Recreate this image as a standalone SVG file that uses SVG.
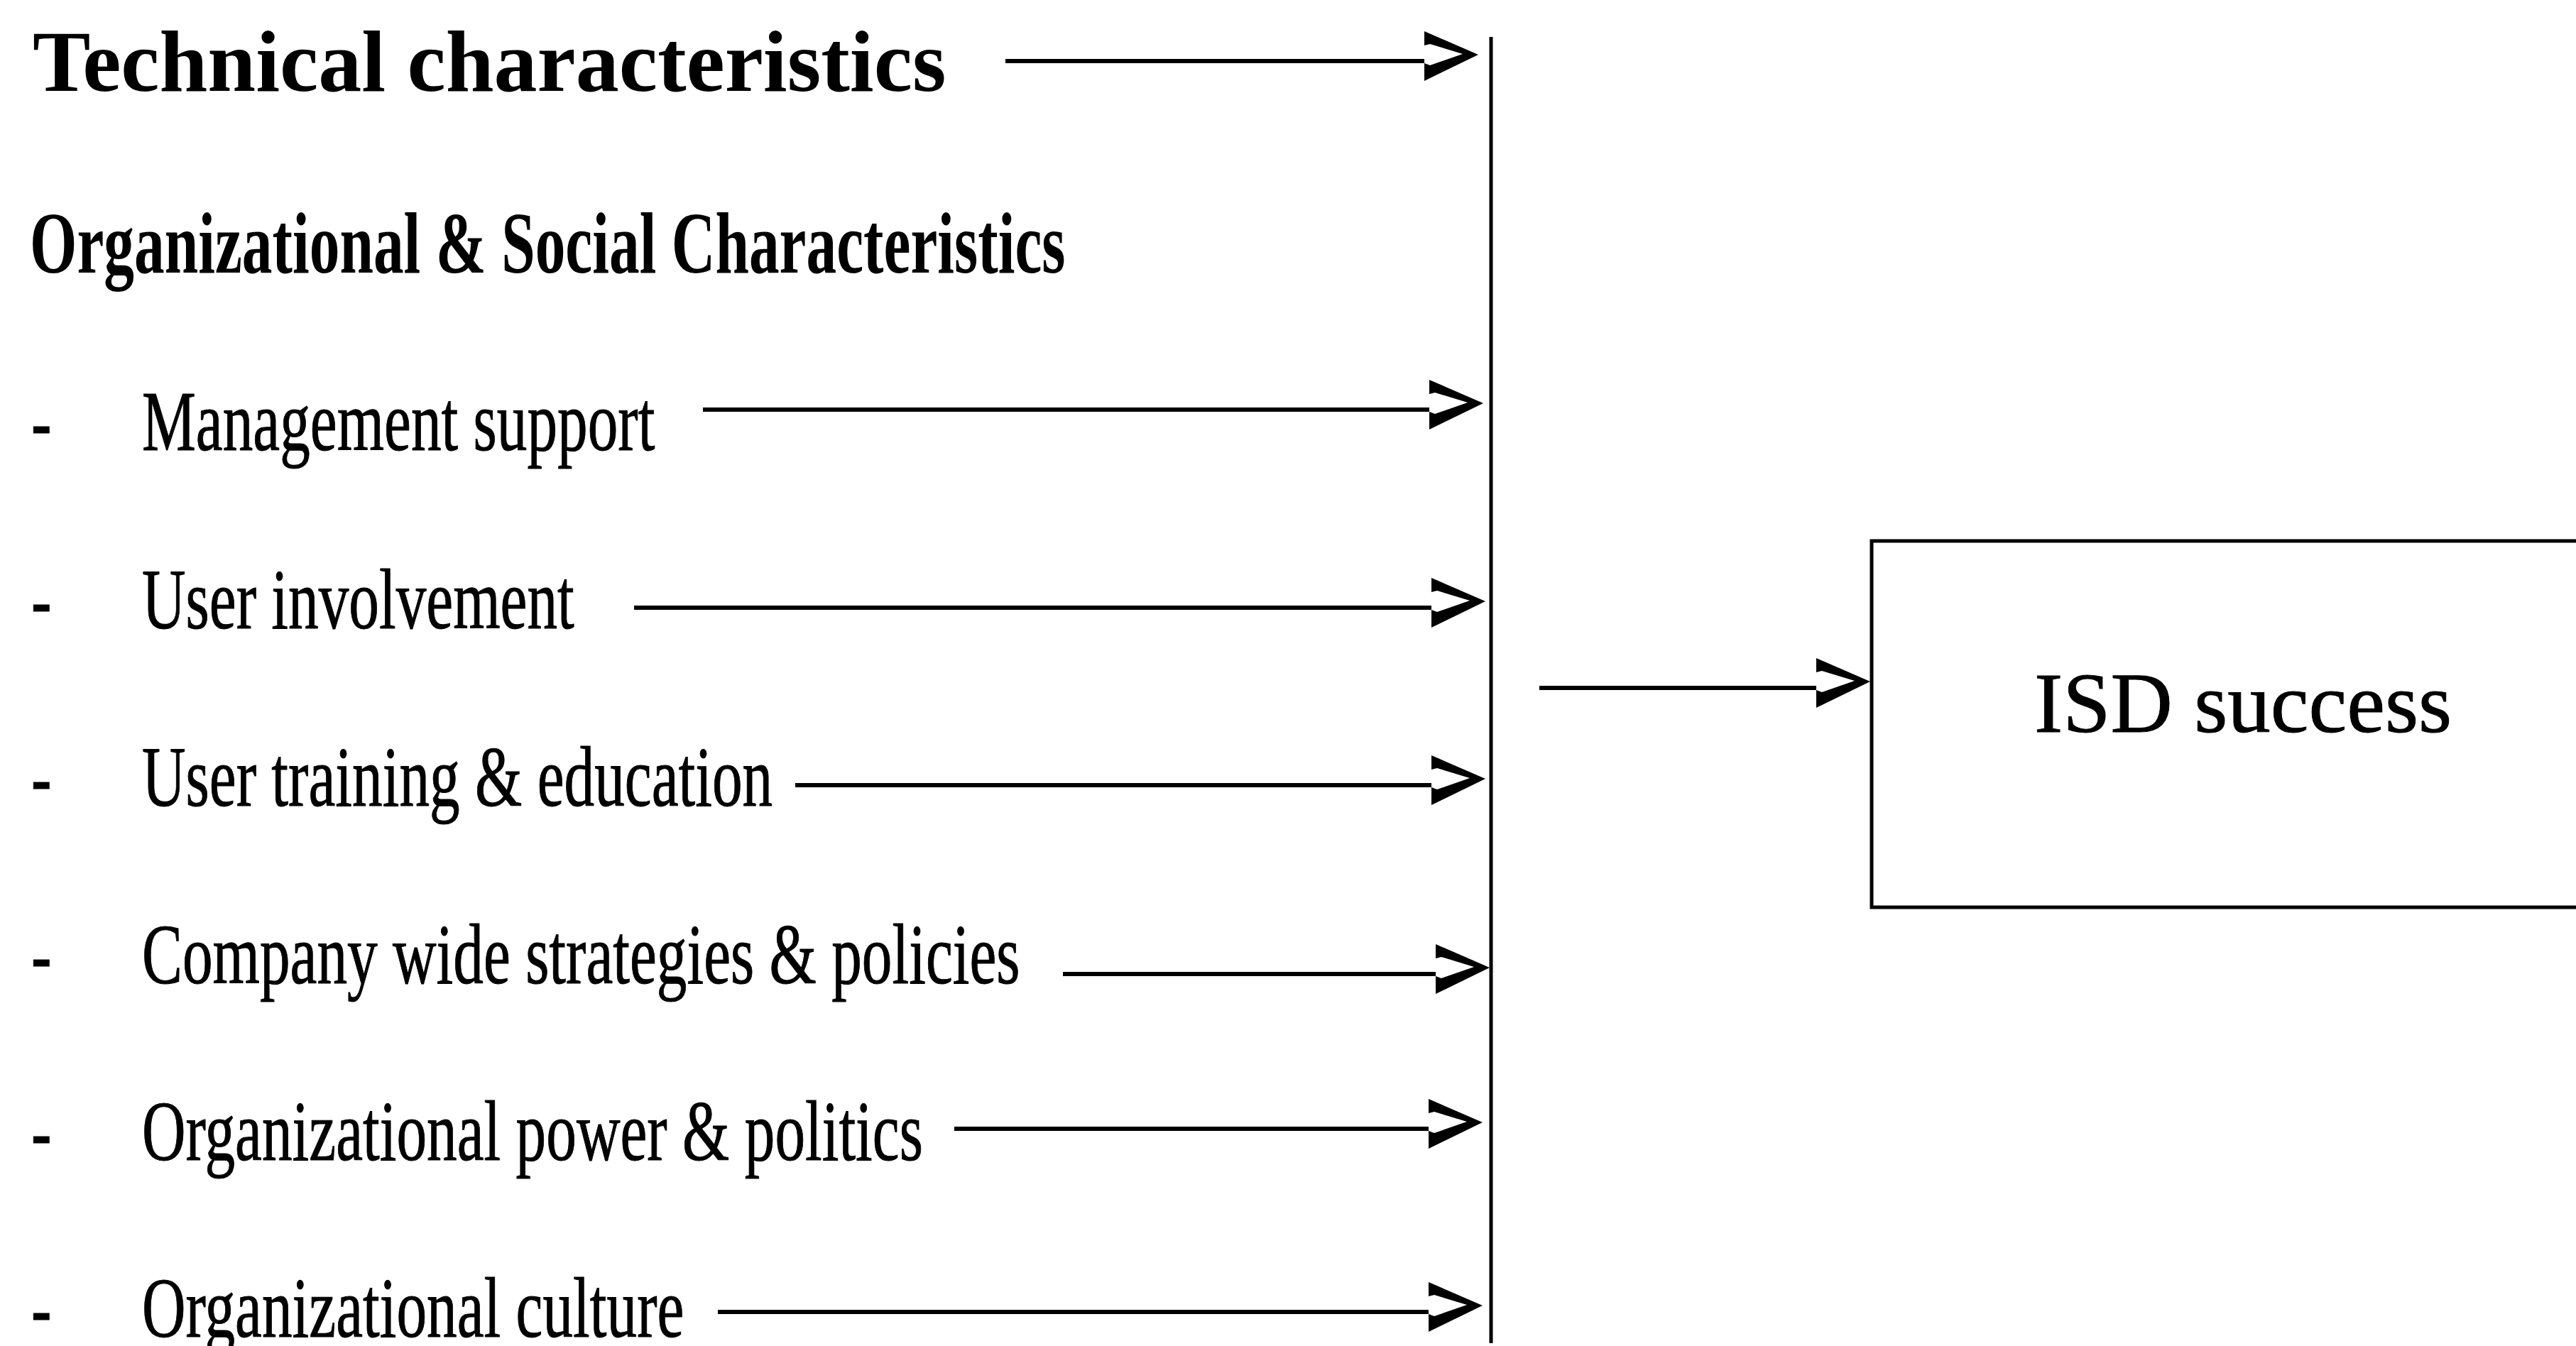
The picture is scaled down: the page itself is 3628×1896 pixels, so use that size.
<svg xmlns="http://www.w3.org/2000/svg" width="3628" height="1896" viewBox="0 0 3628 1896">
  <style>
    .hd { font-family: "Liberation Serif", "Times New Roman", serif; font-weight: bold; font-size: 122px; fill: #000; }
    .it { font-family: "Liberation Serif", "Times New Roman", serif; font-size: 121px; fill: #000; stroke: #000; stroke-width: 1; }
    .ln { stroke: #000; stroke-width: 6; fill: none; }
    .box { stroke: #000; stroke-width: 5; fill: #fff; }
  </style>
  <defs>
    <!-- ">"-shaped open head, drawn forward from the end of each shaft -->
    <marker id="chev" markerUnits="userSpaceOnUse" markerWidth="100" markerHeight="100" viewBox="-10 -50 100 100" refX="0" refY="0" orient="auto" overflow="visible">
      <polygon points="0,-42 76,-9 0,28 0,3 8,6 54,-10 8,-24 0,-22" fill="#000"/>
    </marker>
  </defs>
  <rect width="3628" height="1896" fill="#fff"/>

  <!-- factor labels -->
  <g id="technical">
    <text class="hd" x="46" y="128">Technical characteristics</text>
  </g>
  <g id="org-social">
    <text class="hd" transform="translate(42,384) scale(0.700,1)">Organizational &amp; Social Characteristics</text>
  </g>
  <g id="management-support">
    <text class="it" transform="translate(44,634) scale(0.705,1)">-</text>
    <text class="it" transform="translate(200,634) scale(0.705,1)">Management support</text>
  </g>
  <g id="user-involvement">
    <text class="it" transform="translate(44,885) scale(0.705,1)">-</text>
    <text class="it" transform="translate(200,885) scale(0.705,1)">User involvement</text>
  </g>
  <g id="user-training">
    <text class="it" transform="translate(44,1135) scale(0.705,1)">-</text>
    <text class="it" transform="translate(200,1135) scale(0.705,1)">User training &amp; education</text>
  </g>
  <g id="company-strategies">
    <text class="it" transform="translate(44,1385) scale(0.705,1)">-</text>
    <text class="it" transform="translate(200,1385) scale(0.705,1)">Company wide strategies &amp; policies</text>
  </g>
  <g id="power-politics">
    <text class="it" transform="translate(44,1634) scale(0.705,1)">-</text>
    <text class="it" transform="translate(200,1634) scale(0.705,1)">Organizational power &amp; politics</text>
  </g>
  <g id="org-culture">
    <text class="it" transform="translate(44,1883) scale(0.705,1)">-</text>
    <text class="it" transform="translate(200,1883) scale(0.705,1)">Organizational culture</text>
  </g>

  <!-- outcome box -->
  <g id="isd-success">
    <rect class="box" x="2636" y="762" width="1100" height="516"/>
    <text class="it" x="2865" y="1031">ISD success</text>
  </g>

  <!-- connectors -->
  <g id="connectors">
    <line x1="2100" y1="52" x2="2100" y2="1892" stroke="#000" stroke-width="5"/>
    <line class="ln" x1="1416" y1="86" x2="2006" y2="86" marker-end="url(#chev)"/>
    <line class="ln" x1="990" y1="577" x2="2013" y2="577" marker-end="url(#chev)"/>
    <line class="ln" x1="893" y1="856" x2="2016" y2="856" marker-end="url(#chev)"/>
    <line class="ln" x1="1120" y1="1106" x2="2016" y2="1106" marker-end="url(#chev)"/>
    <line class="ln" x1="1497" y1="1372" x2="2022" y2="1372" marker-end="url(#chev)"/>
    <line class="ln" x1="1344" y1="1590" x2="2012" y2="1590" marker-end="url(#chev)"/>
    <line class="ln" x1="1011" y1="1848" x2="2012" y2="1848" marker-end="url(#chev)"/>
    <line class="ln" x1="2168" y1="969" x2="2558" y2="969" marker-end="url(#chev)"/>
  </g>
</svg>
